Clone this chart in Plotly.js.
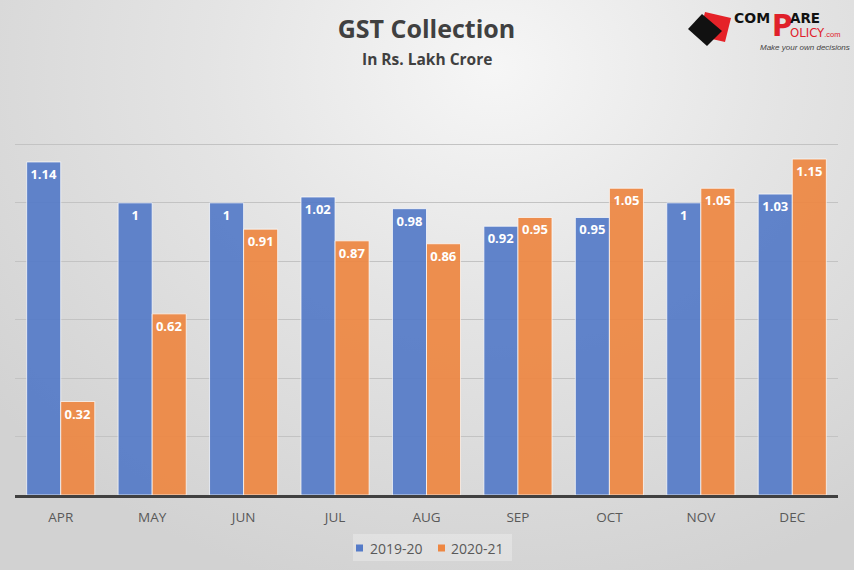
<!DOCTYPE html>
<html><head><meta charset="utf-8">
<script src="https://cdn.plot.ly/plotly-3.0.1.min.js"></script>
<style>
html,body{margin:0;padding:0;}
#chart{width:854px;height:570px;background:radial-gradient(ellipse 75% 95% at 58% 12%, #f6f6f6 0%, #e4e4e4 45%, #d2d2d2 100%);}
</style></head><body>
<div id="chart"></div>
<script>
const months = ['APR','MAY','JUN','JUL','AUG','SEP','OCT','NOV','DEC'];
const fy2019 = [1.14, 1, 1, 1.02, 0.98, 0.92, 0.95, 1, 1.03];
const fy2020 = [0.32, 0.62, 0.91, 0.87, 0.86, 0.95, 1.05, 1.05, 1.15];
const seriesNames = ['2019-20', '2020-21'];
const seriesColors = ['#557bc8', '#ee8742'];

const M = {l:15, r:16, t:86, b:75, autoexpand:false};
const W = 854, H = 570;
const pw = W - M.l - M.r, ph = H - M.t - M.b;
const px = x => (x - M.l) / pw;
const py = y => (H - M.b - y) / ph;

const barStyle = (c) => ({color:c, opacity:0.92, line:{color:'rgba(255,255,255,0.75)', width:1}});
const textFont = {family:'Open Sans, DejaVu Sans, sans-serif', size:13, color:'#ffffff', weight:'bold'};

const traces = [fy2019, fy2020].map((vals, i) => ({
  type:'bar', name:seriesNames[i], x:months, y:vals, marker:barStyle(seriesColors[i]),
  texttemplate:'%{y}', textposition:'inside', insidetextanchor:'end', textangle:0,
  textfont:textFont, hoverinfo:'none', showlegend:false
}));

function poly(pts){ return 'M' + pts.map(p => px(p[0]) + ',' + py(p[1])).join(' L') + ' Z'; }
function rect(x0,y0,x1,y1,fill){ return {type:'rect', xref:'paper', yref:'paper', x0:px(x0), x1:px(x1), y0:py(y1), y1:py(y0), fillcolor:fill, line:{width:0}}; }
const narrow = 'DejaVu Sans Condensed, Liberation Sans Narrow, Roboto, sans-serif';
const boldFont = 'DejaVu Sans, sans-serif';

// legend (drawn as shapes + text)
const legendItems = [{sx:356, tx:368}, {sx:438, tx:449}];
const legendShapes = [rect(353,534,512,561,'rgba(255,255,255,0.28)')];
const legendTexts = [];
legendItems.forEach((it, i) => {
  legendShapes.push(rect(it.sx, 544.5, it.sx+7, 551.5, seriesColors[i]));
  legendTexts.push({text:seriesNames[i], xref:'paper', yref:'paper', x:px(it.tx), y:py(548), xanchor:'left', yanchor:'middle',
    showarrow:false, font:{size:14, color:'#595959'}});
});

function logoText(text, x, y, size, color, family){
  return {text:text, xref:'paper', yref:'paper', x:px(x), y:py(y), xanchor:'left', yanchor:'middle', align:'left',
          showarrow:false, borderpad:0, font:{size:size, color:color, family:family}};
}

const layout = {
  width:W, height:H,
  margin:M,
  paper_bgcolor:'rgba(0,0,0,0)', plot_bgcolor:'rgba(0,0,0,0)',
  barmode:'group', bargap:0.255, bargroupgap:0,
  font:{family:'Open Sans, DejaVu Sans, sans-serif', color:'#595959'},
  title:{text:'<b>GST Collection</b>', x:0.5, xref:'paper', y:1-29/H, yanchor:'middle',
         font:{size:25, color:'#404040', family:'Open Sans, sans-serif'}},
  xaxis:{showgrid:false, showline:true, linecolor:'#404040', linewidth:2.5,
         ticks:'outside', ticklen:8, tickcolor:'rgba(0,0,0,0)',
         tickfont:{size:13.5, color:'#595959'}, fixedrange:true},
  yaxis:{range:[0,1.4], dtick:0.2, showticklabels:false, showgrid:true, gridcolor:'#c3c3c3',
         gridwidth:1.2, zeroline:false, fixedrange:true},
  showlegend:false,
  annotations:[
    {text:'<b>In Rs. Lakh Crore</b>', xref:'paper', yref:'paper', x:0.5, y:py(59), yanchor:'middle',
     showarrow:false, font:{size:15.5, color:'#404040'}},
    logoText('<b>COM</b>', 733, 18, 14, '#111111', boldFont),
    logoText('<b>P</b>', 771, 25, 31, '#e0202a', narrow),
    logoText('<span style="font-size:13.5px;font-family:DejaVu Sans"><b>ARE</b></span><br>' +
             '<span style="font-size:13px;color:#e0202a">OLICY<span style="font-size:7.5px;font-family:Liberation Sans">.com</span></span>',
             789, 25, 10.4, '#111111', narrow),
    logoText('<i>Make your own decisions</i>', 759, 48, 8, '#444444', 'Liberation Sans, sans-serif')
  ].concat(legendTexts),
  shapes:[
    {type:'path', xref:'paper', yref:'paper', path:poly([[705,12],[731,18],[725,42],[699,36]]),
     fillcolor:'#e52228', line:{width:0}},
    {type:'path', xref:'paper', yref:'paper', path:poly([[702,14],[722,31],[707,46],[688,29]]),
     fillcolor:'#111111', line:{width:0}}
  ].concat(legendShapes)
};

Plotly.newPlot('chart', traces, layout, {displayModeBar:false, staticPlot:true});
</script>
</body></html>
